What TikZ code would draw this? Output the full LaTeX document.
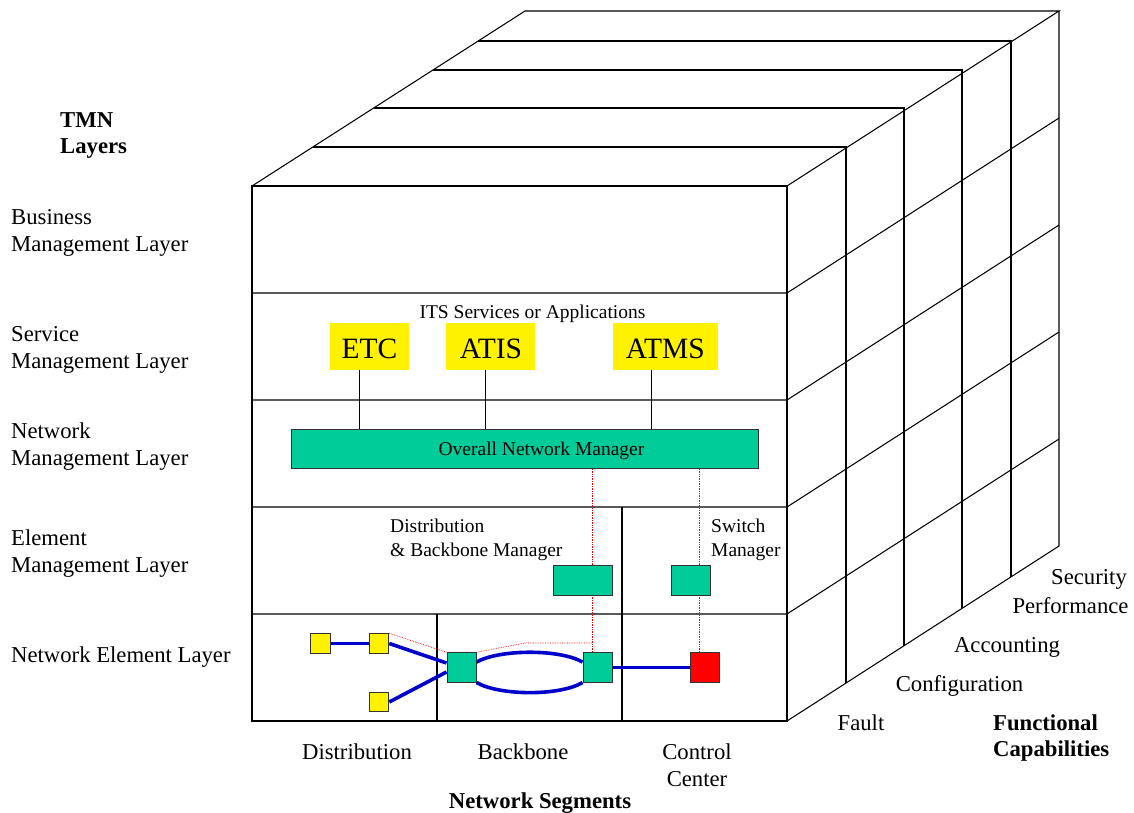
\documentclass[tikz,border=0pt]{standalone}
\usepackage{fontspec}
\usepackage{xcolor}
\setmainfont{Liberation Serif}
\usetikzlibrary{positioning,calc}
\definecolor{mgrgreen}{HTML}{00CC99}
\definecolor{linkblue}{HTML}{0000CC}

\begin{document}
\begin{tikzpicture}[
  x=1pt, y=-1pt, font=\fontsize{22.7}{27}\selectfont,
  grid/.style={draw=black,line width=1.05pt},
  lbl/.style={align=left,anchor=west,inner sep=0pt},
  small/.style={font=\fontsize{19.5}{24}\selectfont,inner sep=0pt},
  heavy/.style={font=\fontsize{22.7}{26.5}\selectfont\bfseries},
  svc/.style={fill=yellow,minimum height=47pt,inner sep=0pt,text height=23pt,text depth=0pt,font=\fontsize{29.5}{30}\selectfont},
  mgr/.style={draw=black!80,line width=1pt,fill=mgrgreen,inner sep=0pt},
  nel/.style={draw=black!80,line width=1pt,fill=yellow,minimum width=19.5pt,minimum height=19.5pt,inner sep=0pt},
  sw/.style={draw=black!80,line width=1pt,fill=mgrgreen,minimum width=29pt,minimum height=29.5pt,inner sep=0pt},
  link/.style={draw=linkblue,line width=3.6pt},
  ctl/.style={draw=red,densely dotted,line width=.7pt}
]
\useasboundingbox (0,0) rectangle (1134,813);
% cube corners
\coordinate (fa) at (252,186);
\coordinate (fb) at (787,186);
\coordinate (fc) at (787,721);
\coordinate (ba) at (525,11);
\coordinate (bb) at (1059,11);
\coordinate (bc) at (1059,546);
\draw[grid] (fa) rectangle (fc);
\draw[grid] (fa) -- (ba) -- (bb) -- (fb);
\draw[grid] (bb) -- (bc) -- (fc);
% layers
\foreach \yy in {293,400,507,614}{
  \draw[grid] (252,\yy) -- (787,\yy) -- ($(787,\yy)+(272,-175)$);
}
% capabilities
\foreach \xa/\xb/\yt/\yb in {313/846/147/683,374/904/108/646,433/962/70/608,478/1011/41/577}{
  \draw[grid] (\xa,\yt) -- (\xb,\yt) -- (\xb,\yb);
}
% segments
\draw[grid,line width=1.3pt] (437,614) -- (437,721);
\draw[grid,line width=1.3pt] (622,614) -- (622,721);
\draw[grid] (622,507) -- (622,614);
% services
\node[svc,minimum width=79pt] (etc) at (369.5,346.5) {ETC};
\node[svc,minimum width=89pt,right=37pt of etc] (atis) {ATIS};
\node[svc,minimum width=105pt,right=77pt of atis] (atms) {ATMS};
\node[small] (its) at (532.5,314) {ITS Services or Applications};
\node[mgr,minimum width=467pt,minimum height=39pt] (onm) at (524.5,449) {};
\node[small] (onmt) at (541.5,451) {Overall Network Manager};
\draw[line width=.8pt] (etc.south -| 359,0) -- (onm.north -| 359,0);
\draw[line width=.8pt] (atis.south -| 485.5,0) -- (onm.north -| 485.5,0);
\draw[line width=.8pt] (atms.south -| 651,0) -- (onm.north -| 651,0);
% element nodes
\node[nel] (d1) at (320.5,643.5) {};
\node[nel] (d2) at (379,643.5) {};
\node[nel] (d3) at (379,702) {};
\node[sw] (b1) at (461.5,667.5) {};
\node[sw] (b2) at (597.5,667.5) {};
\node[sw,fill=red] (cc) at (704.5,667.5) {};
% control lines
\coordinate (kink) at (525,643);
\coordinate (tap) at (592.5,643);
\draw[ctl] (onm.south -| tap) -- (b2.north -| tap);
\draw[ctl] (onm.south -| 699.5,0) -- (cc.north -| 699.5,0);
\draw[ctl] (d2.north east) -- (b1.north west) -- (b1.north east) -- (kink) -- (tap);
\node[mgr,minimum width=59pt,minimum height=29.5pt] (dbm) at (582.5,580.5) {};
\node[mgr,minimum width=39pt,minimum height=29.5pt] (swm) at (690.5,580.5) {};
% links
\draw[link] (d1) -- (d2);
\draw[link] (d2.east) -- ($(b1.west)+(0,-4.5)$);
\draw[link] (d3.east) -- ($(b1.west)+(0,4.5)$);
\draw[link] (b1.20) .. controls (500,649) and (560,649) .. (b2.160);
\draw[link] (b1.-45) .. controls (500,696) and (560,696) .. (b2.-135);
\draw[link] (b2) -- (cc);
\node[nel] at (d2) {};
\node[nel] at (d3) {};
\node[sw] at (b1) {};
\node[sw] at (b2) {};
\node[sw,fill=red] at (cc) {};
% labels
\node[lbl,heavy] (tmn) at (60,135.5) {TMN\\Layers};
\node[lbl] (bml) at (11,233) {Business\\Management Layer};
\node[lbl] (sml) at (11,350) {Service\\Management Layer};
\node[lbl] (nml) at (11,447) {Network\\Management Layer};
\node[lbl] (eml) at (11,554) {Element\\Management Layer};
\node[lbl] (nee) at (11,657) {Network Element Layer};
\node[small,align=left,anchor=west] (dbl) at (390,540) {Distribution\\\& Backbone Manager};
\node[small,align=left,anchor=west] (swl) at (711,540) {Switch\\Manager};
\node[inner sep=0pt] (dist) at (357,752) {Distribution};
\node[inner sep=0pt] (back) at (523,752) {Backbone};
\node[inner sep=0pt,align=center] (ctr) at (697,765) {Control\\Center};
\node[inner sep=0pt,heavy] (seg) at (540,803) {Network Segments};
\node[inner sep=0pt] (flt) at (861,723) {Fault};
\node[inner sep=0pt] (cfg) at (959.5,686) {Configuration};
\node[inner sep=0pt] (acc) at (1007,647) {Accounting};
\node[inner sep=0pt] (prf) at (1070.5,606) {Performance};
\node[inner sep=0pt] (sec) at (1089,579) {Security};
\node[lbl,heavy] (fun) at (993,738) {Functional\\Capabilities};
\end{tikzpicture}
\end{document}
